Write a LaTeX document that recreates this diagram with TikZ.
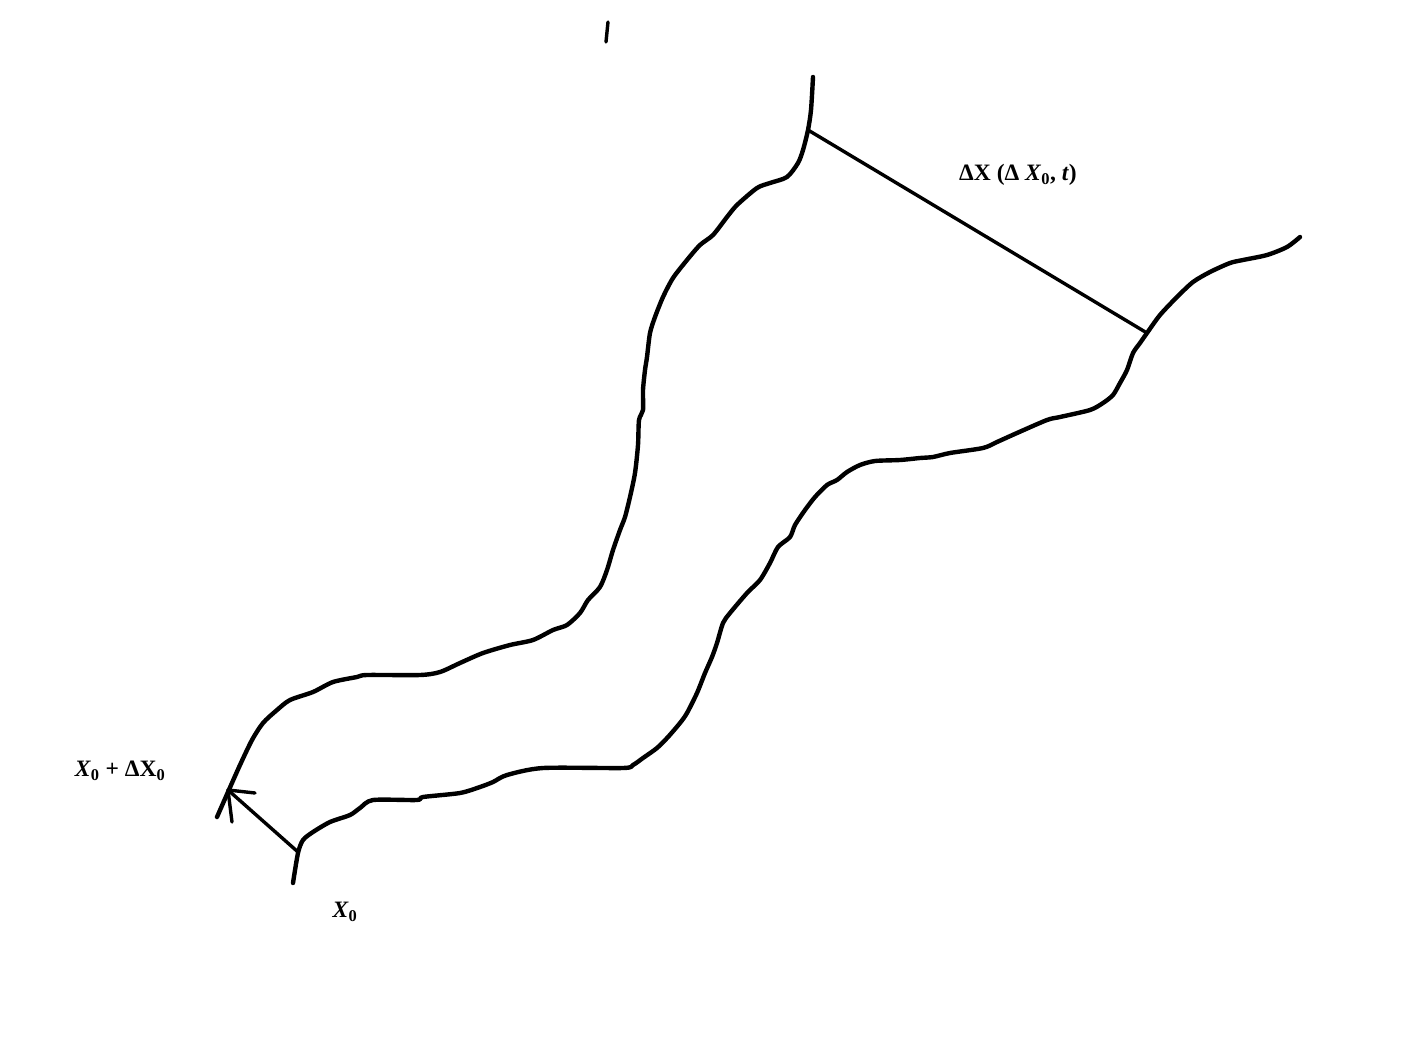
\documentclass[tikz,border=0pt]{standalone}
\usepackage{fontspec}
\setmainfont{Liberation Serif}
\begin{document}
\begin{tikzpicture}[x=1pt,y=-1pt,
  curve/.style={line width=4.4pt,line cap=round,line join=round},
  seg/.style={line width=3.4pt,line cap=round},
  lbl/.style={font=\fontsize{23.5}{26}\selectfont\bfseries,inner sep=0pt,anchor=center}]
\useasboundingbox (0,0) rectangle (1405,1046);
% upper boundary curve
\draw[curve] plot[smooth,tension=0.45] coordinates {
(813,77) (811,110) (808,130) (803,150) (798,163) (787,177) (770,183) (757,188)
(737,205) (727,217) (713,235) (700,245) (687,260) (673,278) (663,297) (655,317)
(650,333) (647,357) (645,370) (643,390) (643,410) (639,420) (638,445) (635,473)
(630,497) (625,517) (620,530) (613,550) (607,570) (600,587) (588,600) (580,613)
(567,625) (553,630) (533,640) (510,645) (483,653) (460,663) (440,672) (420,675)
(367,675) (357,677) (333,682) (313,692) (290,700) (277,710) (263,723) (252,740)
(240,765) (228,792) (217,817)};
% lower boundary curve
\draw[curve] plot[smooth,tension=0.45] coordinates {
(293,883) (298,853) (303,840) (313,832) (330,822) (350,815) (360,808) (373,800)
(417,800) (423,797) (460,793) (480,787) (493,782) (507,775) (543,768) (623,768)
(633,765) (643,758) (657,748) (668,737) (680,723) (687,713) (697,693) (705,673)
(712,657) (717,643) (723,623) (730,613) (747,593) (760,580) (770,563) (778,547)
(790,537) (795,525) (805,510) (815,497) (827,485) (837,480) (847,472) (860,465)
(875,461) (900,460) (920,458) (933,457) (950,453) (983,448) (997,442) (1017,433)
(1047,420) (1060,417) (1090,410) (1103,403) (1113,395) (1120,383) (1127,370)
(1133,353) (1140,343) (1147,333) (1160,315) (1177,297) (1193,282) (1210,272)
(1230,263) (1243,260) (1267,255) (1287,247) (1300,237)};
% named points
\coordinate (pA) at (808,130);
\coordinate (pB) at (1147,333);
\coordinate (x0) at (298,852);
\coordinate (tip) at (228,790);
\coordinate (barbA) at (255,793);
\coordinate (barbB) at (232,822);
\coordinate (markTop) at (608,22);
\coordinate (markBot) at (606,42);
% separation line
\draw[seg] (pA) -- (pB);
% arrow from X0 to X0+dX0
\draw[seg] (x0) -- (tip);
\draw[seg] (tip) -- (barbA);
\draw[seg] (tip) -- (barbB);
% small stroke at top
\draw[seg] (markTop) -- (markBot);
% labels
\node[lbl] (lblDX) at (1018,175) {ΔX (Δ \textit{X}\textsubscript{0}, \textit{t})};
\node[lbl] (lblX0d) at (120,771) {\textit{X}\textsubscript{0} + ΔX\textsubscript{0}};
\node[lbl] (lblX0) at (345,912) {\textit{X}\textsubscript{0}};
\end{tikzpicture}
\end{document}
